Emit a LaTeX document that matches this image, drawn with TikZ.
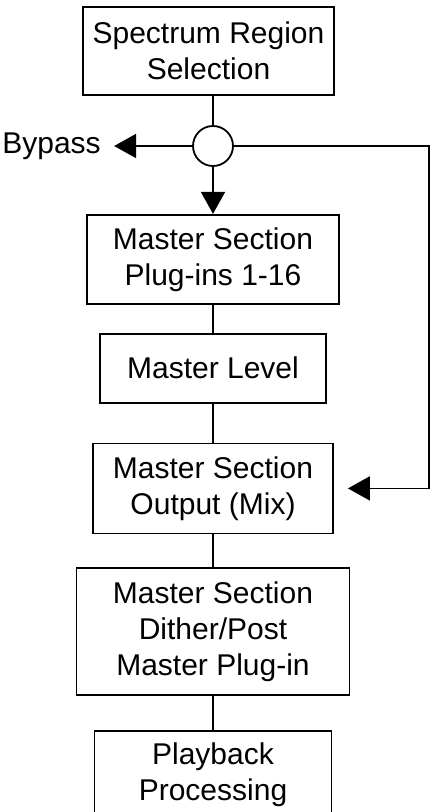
\documentclass[tikz,border=0pt]{standalone}
\usepackage{fontspec}
\setmainfont{Liberation Sans}
\usetikzlibrary{arrows.meta, positioning}
\tikzset{
    box/.style={rectangle, draw, line width=0.9pt, align=center, inner sep=2pt},
    junction/.style={circle, draw, line width=0.9pt, minimum size=20pt, inner sep=0pt},
    link/.style={line width=0.9pt},
    arrow/.style={-{Triangle[length=11pt, width=12pt]}, line width=0.9pt},
}
\begin{document}
\begin{tikzpicture}[font=\fontsize{15}{18}\selectfont]
\useasboundingbox (0,0) rectangle (217pt,-406pt);

% Source and switch
\node[box, minimum width=125.5pt, minimum height=44pt] (region) at (104.25pt,-25.5pt) {Spectrum Region\\Selection};
\node[junction] (switch) at (106.5pt,-73pt) {};
\node[left=45.5pt of switch, inner sep=0pt] (bypass) {Bypass};
\coordinate[right=97.5pt of switch.east] (loop);

% Master section chain
\node[box, below=23.5pt of switch, minimum width=126pt, minimum height=44.5pt] (plugins) {Master Section\\Plug-ins 1-16};
\node[box, below=14pt of plugins, minimum width=113pt, minimum height=34.5pt] (level) {Master Level};
\node[box, below=19.5pt of level, minimum width=120pt, minimum height=45pt] (output) {Master Section\\Output (Mix)};
\node[box, below=16.5pt of output, minimum width=136.5pt, minimum height=63.5pt] (dither) {Master Section\\Dither/Post\\Master Plug-in};
\node[box, below=17pt of dither, minimum width=118.5pt, minimum height=44pt] (playback) {Playback\\Processing};

% Connections
\draw[link] (switch |- region.south) -- (switch);
\draw[arrow, shorten >=6.5pt] (switch) -- (bypass);
\draw[arrow] (switch) -- (plugins);
\draw[arrow, shorten >=7pt] (switch) -- (loop) |- (output);
\draw[link] (plugins) -- (level);
\draw[link] (level) -- (output);
\draw[link] (output) -- (dither);
\draw[link] (dither) -- (playback);

\end{tikzpicture}
\end{document}
